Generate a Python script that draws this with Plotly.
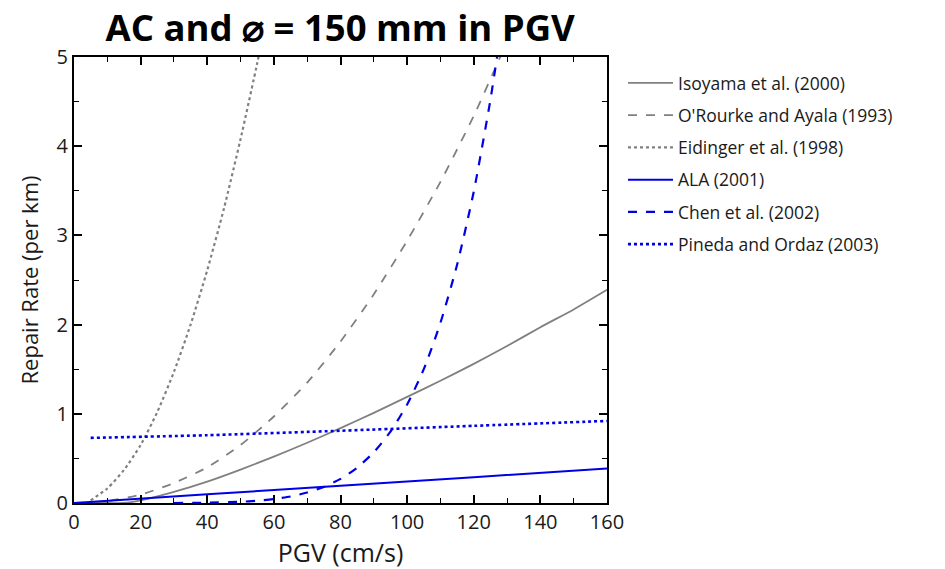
import plotly.graph_objects as go

# ---- data ----
iso_x = [0, 10, 15, 20, 30, 40, 50, 60, 70, 80, 90, 100, 110, 120, 130, 140, 150, 160]
iso_y = [0, 0, 0, 0.03, 0.125, 0.24, 0.375, 0.52, 0.675, 0.84, 1.01, 1.19, 1.37, 1.56, 1.76, 1.97, 2.17, 2.39]

oro_x = [0, 10, 20, 30, 40, 50, 60, 70, 80, 90, 100, 110, 120, 127, 130]
oro_y = [0, 0.021, 0.094, 0.224, 0.40, 0.65, 0.97, 1.35, 1.81, 2.34, 2.94, 3.60, 4.34, 4.92, 5.18]

eid_x = [5, 10, 15, 20, 25, 30, 35, 40, 45, 50, 55, 56]
eid_y = [0.03, 0.163, 0.37, 0.65, 1.02, 1.47, 2.0, 2.61, 3.3, 4.08, 4.93, 5.11]

ala_x = [0, 40, 80, 120, 160]
ala_y = [0, 0.097, 0.193, 0.29, 0.387]

chen_x = [30, 40, 50, 55, 60, 65, 70, 75, 80, 85, 90, 95, 100, 105, 110, 115, 120, 125, 128]
chen_y = [0.0, 0.003, 0.014, 0.025, 0.044, 0.073, 0.117, 0.18, 0.27, 0.396, 0.569, 0.80, 1.105, 1.50, 2.02, 2.67, 3.49, 4.52, 5.25]

pin_x = [5, 40, 80, 120, 160]
pin_y = [0.73, 0.76, 0.81, 0.865, 0.92]

names = ["Isoyama et al. (2000)", "O'Rourke and Ayala (1993)", "Eidinger et al. (1998)",
         "ALA (2001)", "Chen et al. (2002)", "Pineda and Ordaz (2003)"]

GRAY = "#808080"
BLUE = "#0000e6"
FONT = "Open Sans"
TXT = "#1a1a1a"

series = [
    (iso_x, iso_y, GRAY, "solid", 1.8),
    (oro_x, oro_y, GRAY, "dash", 1.8),
    (eid_x, eid_y, GRAY, "dot", 2.2),
    (ala_x, ala_y, BLUE, "solid", 2.0),
    (chen_x, chen_y, BLUE, "dash", 2.2),
    (pin_x, pin_y, BLUE, "dot", 2.6),
]

fig = go.Figure()
for i, (x, y, c, d, w) in enumerate(series):
    fig.add_trace(go.Scatter(
        x=x, y=y, mode="lines", name=names[i], legendgroup=str(i),
        line=dict(color=c, dash=d, width=w, shape="spline", smoothing=0.6),
    ))

axis_common = dict(
    showline=True, linecolor="black", linewidth=2, mirror="ticks",
    ticks="inside", ticklen=8, tickwidth=1.5, tickcolor="black",
    showgrid=False, zeroline=False,
    tickfont=dict(family=FONT, size=20, color=TXT),
)

fig.update_xaxes(range=[0, 160], dtick=20,
                 minor=dict(ticks="inside", ticklen=5, dtick=10, tickcolor="black", tickwidth=1),
                 title=dict(text="PGV (cm/s)", font=dict(family=FONT, size=25, color=TXT), standoff=4),
                 **axis_common)
fig.update_yaxes(range=[0, 5], dtick=1,
                 minor=dict(ticks="inside", ticklen=5, dtick=0.5, tickcolor="black", tickwidth=1),
                 title=dict(text="Repair Rate (per km)", font=dict(family=FONT, size=22, color=TXT), standoff=12),
                 **axis_common)

fig.update_layout(
    width=945, height=569,
    margin=dict(l=74, r=338, t=57, b=66),
    paper_bgcolor="white", plot_bgcolor="white",
    title=dict(text="<b>AC and ⌀ = 150 mm in PGV</b>", x=0.36, xanchor="center",
               y=0.950, yanchor="middle", font=dict(family=FONT, size=36.5, color="black")),
    legend=dict(x=1.03, y=0.982, xanchor="left", yanchor="top",
                font=dict(family=FONT, size=17.5, color=TXT),
                tracegroupgap=6.5, itemwidth=45, bgcolor="rgba(0,0,0,0)"),
    showlegend=True,
)

fig.write_html("out.html")
